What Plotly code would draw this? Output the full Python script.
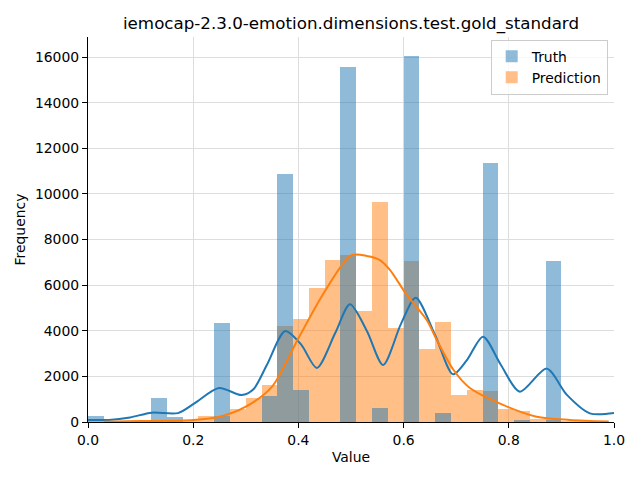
import plotly.graph_objects as go

# Histogram bins (left edges), bin width 0.03
bin_left = [0.00, 0.03, 0.06, 0.09, 0.12, 0.15, 0.18, 0.21, 0.24, 0.27, 0.30,
            0.33, 0.36, 0.39, 0.42, 0.45, 0.48, 0.51, 0.54, 0.57, 0.60, 0.63,
            0.66, 0.69, 0.72, 0.75, 0.78, 0.81, 0.84, 0.87, 0.90, 0.93, 0.96]
bin_width = 0.03

truth_counts = [250, 0, 0, 0, 1050, 200, 0, 0, 4320, 0, 0,
                1150, 10870, 1400, 0, 0, 15560, 0, 610, 0, 16040, 0,
                390, 0, 0, 11350, 0, 80, 0, 7060, 0, 0, 0]

pred_counts = [0, 10, 30, 40, 50, 70, 100, 250, 260, 570, 1050,
               1620, 4210, 4510, 5890, 7100, 7320, 4870, 9640, 4120, 7060, 3200,
               4380, 1180, 1400, 1360, 570, 480, 150, 100, 60, 40, 20]

# KDE curves (scaled to counts)
truth_kde_x = [0.0, 0.04, 0.08, 0.121, 0.171, 0.203, 0.249, 0.292, 0.315, 0.34, 0.375,
               0.405, 0.435, 0.47, 0.498, 0.53, 0.561, 0.595, 0.623, 0.66, 0.694,
               0.72, 0.751, 0.785, 0.821, 0.872, 0.91, 0.954, 1.0]
truth_kde_y = [90, 90, 200, 410, 390, 830, 1490, 1180, 1450, 2500, 3990,
               3400, 2370, 3900, 5160, 4000, 2500, 4300, 5450, 3800, 2090,
               2700, 3740, 2500, 1330, 2340, 1200, 380, 390]

pred_kde_x = [0.03, 0.1, 0.2, 0.25, 0.3, 0.35, 0.4, 0.45, 0.5, 0.53, 0.555,
              0.574, 0.606, 0.644, 0.663, 0.695, 0.726, 0.789, 0.853, 0.916, 0.99]
pred_kde_y = [10, 40, 90, 230, 670, 1550, 3670, 5720, 7300, 7280, 7100,
              6670, 5570, 4470, 3600, 2280, 1490, 750, 230, 90, 20]

blue = "#1f77b4"
orange = "#ff7f0e"

bin_centers = [b + bin_width / 2 for b in bin_left]

fig = go.Figure()
fig.add_trace(go.Bar(x=bin_centers, y=pred_counts, width=bin_width,
                     name="Prediction", legendrank=2,
                     marker=dict(color="rgba(255,127,14,0.5)", line=dict(width=0))))
fig.add_trace(go.Bar(x=bin_centers, y=truth_counts, width=bin_width,
                     name="Truth", legendrank=1,
                     marker=dict(color="rgba(31,119,180,0.5)", line=dict(width=0))))
fig.add_trace(go.Scatter(x=truth_kde_x, y=truth_kde_y, mode="lines",
                         line=dict(color=blue, width=2, shape="spline", smoothing=0.8),
                         showlegend=False))
fig.add_trace(go.Scatter(x=pred_kde_x, y=pred_kde_y, mode="lines",
                         line=dict(color=orange, width=2, shape="spline", smoothing=0.8),
                         showlegend=False))

font = dict(family="DejaVu Sans", size=13.9, color="black")

W, H = 624, 464  # page body has an 8px margin
fig.update_layout(
    width=W, height=H,
    margin=dict(l=80, r=W - 80 - 526, t=29, b=H - 29 - 385),
    barmode="overlay", bargap=0,
    plot_bgcolor="white", paper_bgcolor="white",
    font=font,
    title=dict(text="iemocap-2.3.0-emotion.dimensions.test.gold_standard",
               x=343 / W, xanchor="center",
               y=1 - 15 / H, yanchor="middle", yref="container",
               font=dict(family="DejaVu Sans", size=16.7, color="black")),
    legend=dict(x=0.988, xanchor="right", y=0.993, yanchor="top",
                bordercolor="#cccccc", borderwidth=1, bgcolor="rgba(255,255,255,0.8)",
                tracegroupgap=0,
                font=dict(family="DejaVu Sans", size=13.9)),
    xaxis=dict(range=[0, 1], tickvals=[0, 0.2, 0.4, 0.6, 0.8, 1.0],
               ticktext=["0.0", "0.2", "0.4", "0.6", "0.8", "1.0"],
               automargin=False,
               showgrid=True, gridcolor="#dddddd", gridwidth=1,
               showline=True, linecolor="black", linewidth=1.2,
               ticks="outside", ticklen=5, tickcolor="black", zeroline=False,
               title=dict(text="Value", standoff=5, font=font)),
    yaxis=dict(range=[0, 16877], tickvals=list(range(0, 16001, 2000)),
               tickformat="d", automargin=False,
               showgrid=True, gridcolor="#dddddd", gridwidth=1,
               showline=True, linecolor="black", linewidth=1.2,
               ticks="outside", ticklen=5, tickcolor="black", zeroline=False,
               title=dict(text="Frequency", standoff=6, font=font)),
)

fig.write_html("out.html")
